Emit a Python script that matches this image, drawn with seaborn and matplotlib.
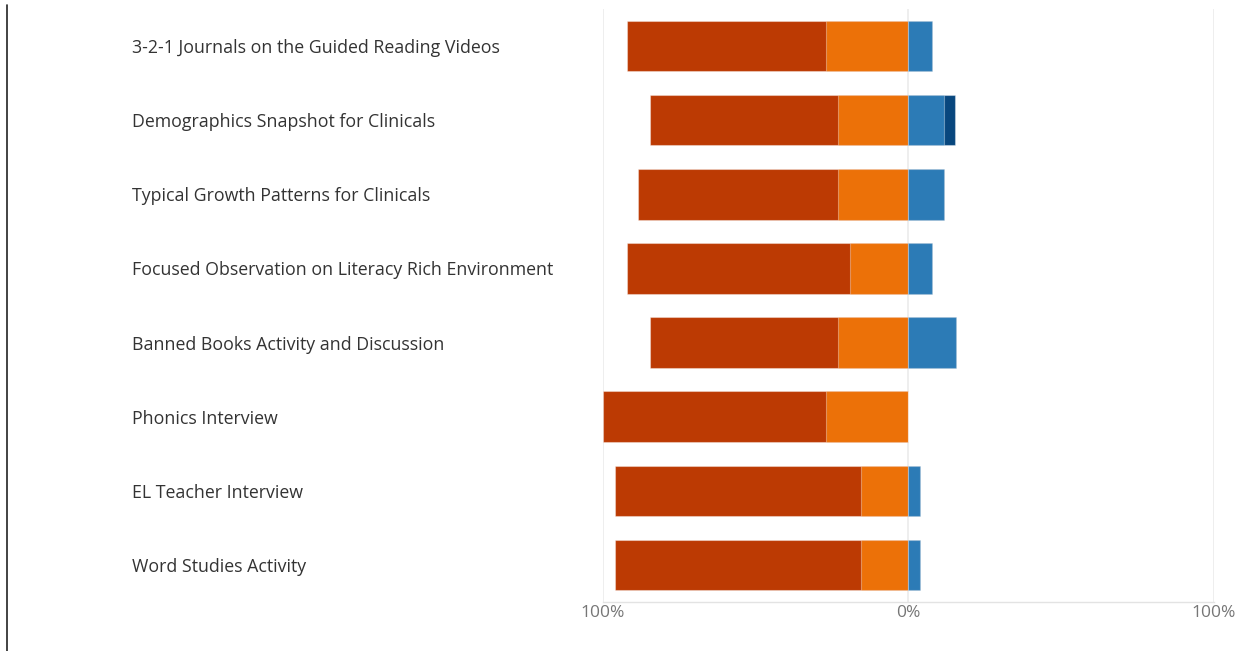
import matplotlib
matplotlib.use("Agg")
import matplotlib.pyplot as plt
import seaborn as sns
import pandas as pd
from matplotlib.lines import Line2D

# Activities (top to bottom) and share of responses in percent
activities = [
    "3-2-1 Journals on the Guided Reading Videos",
    "Demographics Snapshot for Clinicals",
    "Typical Growth Patterns for Clinicals",
    "Focused Observation on Literacy Rich Environment",
    "Banned Books Activity and Discussion",
    "Phonics Interview",
    "EL Teacher Interview",
    "Word Studies Activity",
]
strong_neg = [65.4, 61.5, 65.4, 73.1, 61.5, 73.1, 80.8, 80.8]
neg = [26.9, 23.1, 23.1, 19.2, 23.1, 26.9, 15.4, 15.4]
pos = [7.7, 11.5, 11.5, 7.7, 15.4, 0.0, 3.8, 3.8]
strong_pos = [0.0, 3.8, 0.0, 0.0, 0.0, 0.0, 0.0, 0.0]

tick_vals = [-100, 0, 100]
tick_labels = ["100%", "0%", "100%"]

c_strong_neg = "#bc3a03"
c_neg = "#ec7108"
c_pos = "#2c7bb6"
c_strong_pos = "#08477e"

df = pd.DataFrame({
    "activity": activities,
    "neg_outer": [-(a + b) for a, b in zip(strong_neg, neg)],
    "neg_inner": [-b for b in neg],
    "pos_outer": [a + b for a, b in zip(pos, strong_pos)],
    "pos_inner": pos,
})

sns.set_style("white")
plt.rcParams["font.family"] = ["Open Sans", "DejaVu Sans"]

fig = plt.figure(figsize=(12.44, 6.51), dpi=100)
W, H = 1244, 651
ax = fig.add_axes([603 / W, 1 - 602 / H, (1214 - 603) / W, (602 - 9) / H])

edge = (1, 1, 1, 0.35)
for col, colr in [("neg_outer", c_strong_neg), ("neg_inner", c_neg),
                  ("pos_outer", c_strong_pos), ("pos_inner", c_pos)]:
    sns.barplot(data=df, x=col, y="activity", color=colr, saturation=1,
                width=0.68, orient="h", ax=ax, edgecolor=edge, linewidth=0.8)

ax.set_xlim(-100, 100)
ax.set_ylim(7.5, -0.5)
ax.set_xticks(tick_vals)
ax.set_xticklabels(tick_labels, color="#767676", fontsize=12.5)
ax.set_xlabel("")
ax.set_ylabel("")
ax.set_axisbelow(True)
for v in tick_vals:
    ax.axvline(v, color="#ebebeb", lw=1.2, zorder=0)

for s in ["top", "left", "right"]:
    ax.spines[s].set_visible(False)
ax.spines["bottom"].set_color("#e3e3e3")
ax.spines["bottom"].set_linewidth(1)

ax.tick_params(axis="x", length=0, pad=2)
ax.tick_params(axis="y", length=0, pad=339)
for lbl in ax.get_yticklabels():
    lbl.set_horizontalalignment("left")
    lbl.set_color("#333333")
    lbl.set_fontsize(12.8)

# dark edge line on the left of the frame
fig.add_artist(Line2D([7 / W, 7 / W], [0, 1 - 5 / H], color="#222222", lw=1.2))

fig.savefig("out.png", dpi=100, facecolor="white")
